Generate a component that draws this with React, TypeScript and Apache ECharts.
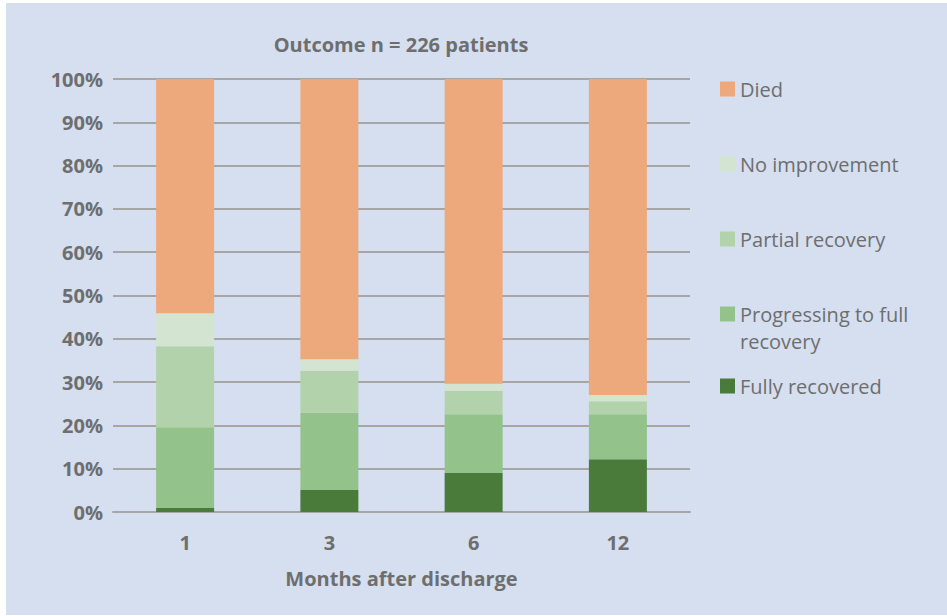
import React, { useEffect, useRef } from "react";
import * as echarts from "echarts";

const categories = ["1", "3", "6", "12"];
const fullyRecovered = [0.9, 5.1, 9.0, 12.2];
const progressing = [18.7, 17.8, 13.6, 10.4];
const partialRecovery = [18.7, 9.7, 5.4, 3.0];
const noImprovement = [7.6, 2.7, 1.6, 1.4];
const died = [54.1, 64.7, 70.4, 73.0];
const yTicks = [0, 10, 20, 30, 40, 50, 60, 70, 80, 90, 100];

const TEXT = "#6E6E6E";
const FONT = "'Open Sans', 'Noto Sans', sans-serif";

export default function App() {
  const ref = useRef<HTMLDivElement>(null);
  useEffect(() => {
    if (!ref.current) return;
    const chart = echarts.init(ref.current, undefined, { renderer: "svg" });
    const mk = (name: string, data: number[], color: string) => ({
      name,
      type: "bar",
      stack: "total",
      data,
      barWidth: 58,
      itemStyle: { color },
      emphasis: { disabled: true },
    });
    const legendItem = (name: string, top: number, formatter?: string) => ({
      data: [name],
      orient: "vertical",
      left: 720,
      top,
      padding: 0,
      itemWidth: 15,
      itemHeight: 15,
      icon: "rect",
      selectedMode: false,
      formatter: formatter,
      textStyle: { color: TEXT, fontSize: 20, fontFamily: FONT },
    });
    chart.setOption({
      animation: false,
      backgroundColor: "#FFFFFF",
      graphic: [
        {
          type: "rect",
          z: -10,
          silent: true,
          shape: { x: 6, y: 3, width: 941, height: 612 },
          style: { fill: "#D5DFF0" },
        },
        {
          type: "text",
          left: 740,
          top: 331,
          style: { text: "recovery", fill: TEXT, fontSize: 20, fontFamily: FONT, lineHeight: 20 },
        },
      ],
      title: {
        text: "Outcome n = 226 patients",
        left: 401,
        textAlign: "center",
        top: 34,
        padding: 0,
        textStyle: { color: TEXT, fontSize: 20, fontWeight: "bold", fontFamily: FONT },
      },
      legend: [
        legendItem("Died", 79),
        legendItem("No improvement", 154),
        legendItem("Partial recovery", 229),
        legendItem("Progressing to full recovery", 304, "Progressing to full"),
        legendItem("Fully recovered", 376),
      ],
      grid: { left: 113, right: 257, top: 79, bottom: 104 },
      xAxis: {
        type: "category",
        data: categories,
        name: "Months after discharge",
        nameLocation: "middle",
        nameGap: 56,
        nameTextStyle: { color: TEXT, fontSize: 20, fontWeight: "bold", fontFamily: FONT },
        axisLine: { lineStyle: { color: "#A6A6A6", width: 2 } },
        axisTick: { show: false },
        axisLabel: { color: TEXT, fontSize: 20, fontWeight: "bold", fontFamily: FONT, margin: 20 },
      },
      yAxis: {
        type: "value",
        min: yTicks[0],
        max: yTicks[yTicks.length - 1],
        interval: 10,
        axisLine: { show: false },
        axisTick: { show: false },
        splitLine: { lineStyle: { color: "#A6A6A6", width: 2 } },
        axisLabel: {
          color: TEXT,
          fontSize: 20,
          fontWeight: "bold",
          fontFamily: FONT,
          margin: 10,
          formatter: (v: number) => v + "%",
        },
      },
      series: [
        mk("Fully recovered", fullyRecovered, "#4B7B3A"),
        mk("Progressing to full recovery", progressing, "#93C28A"),
        mk("Partial recovery", partialRecovery, "#B2D2AC"),
        mk("No improvement", noImprovement, "#D3E4D0"),
        mk("Died", died, "#EDA87C"),
      ],
    });
    return () => chart.dispose();
  }, []);
  return (
    <div
      ref={ref}
      style={{ position: "fixed", left: 0, top: 0, width: 947, height: 616 }}
    />
  );
}
